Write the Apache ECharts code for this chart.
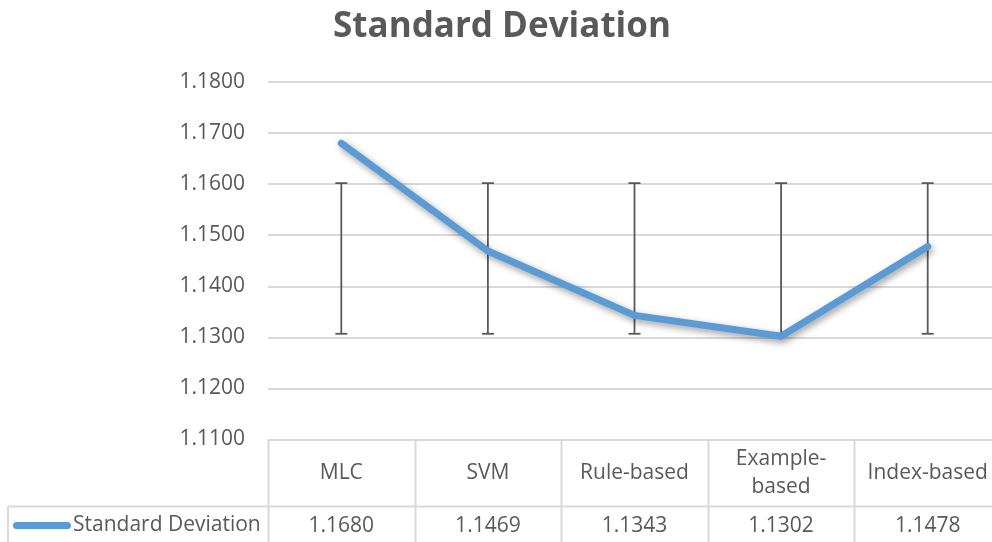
<!DOCTYPE html>
<html>
<head>
<meta charset="utf-8">
<script src="https://cdn.jsdelivr.net/npm/echarts@6/dist/echarts.min.js"></script>
<style>
  html, body { margin: 0; padding: 0; background: #fff; }
  #chart { width: 992px; height: 542px; }
</style>
</head>
<body>
<div id="chart"></div>
<script>
// Methods compared
const categories = ['MLC', 'SVM', 'Rule-based', 'Example-\nbased', 'Index-based'];
// Standard deviation per method
const stdValues = [1.1680, 1.1469, 1.1343, 1.1302, 1.1478];
// Error bar extents per method
const errLow = [1.1307, 1.1307, 1.1307, 1.1307, 1.1307];
const errHigh = [1.1602, 1.1602, 1.1602, 1.1602, 1.1602];
// Value axis range
const yMin = 1.11, yMax = 1.18, yStep = 0.01;

const seriesName = 'Standard Deviation';
const FONT = '"Open Sans", "Noto Sans", sans-serif';
const TEXT = '#595959';
const RULE = '#D9D9D9';
const FS = 21;

const chart = echarts.init(document.getElementById('chart'), null, { renderer: 'canvas' });

const GRID = { left: 268, top: 82, width: 733, height: 357.5, outerBoundsMode: 'none', containLabel: false };

chart.setOption({
  animation: false,
  backgroundColor: '#fff',
  title: {
    text: 'Standard Deviation',
    left: 497, top: 5, textAlign: 'center',
    textStyle: { fontFamily: FONT, fontSize: 35, fontWeight: 'bold', color: TEXT }
  },
  legend: {
    data: [{ name: seriesName }],
    left: 13, top: 515,
    padding: 0,
    itemWidth: 58, itemHeight: 7, itemGap: 0,
    icon: 'path://M3.5,0 H54.5 A3.5,3.5 0 0 1 54.5,7 H3.5 A3.5,3.5 0 0 1 3.5,0 Z',
    textStyle: { fontFamily: FONT, fontSize: FS, color: TEXT, padding: [0, 0, 0, -3] },
    selectedMode: false
  },
  grid: GRID,
  xAxis: [
    {
      type: 'category', data: categories, boundaryGap: true,
      axisLine: { show: true, lineStyle: { color: RULE, width: 2 } },
      axisTick: { show: false },
      axisLabel: {
        fontFamily: FONT, fontSize: FS, color: TEXT, lineHeight: 28,
        margin: 34, verticalAlign: 'middle', interval: 0
      }
    },
    {
      type: 'category', data: stdValues.map(v => v.toFixed(4)), boundaryGap: true,
      position: 'bottom',
      axisLine: { show: false }, axisTick: { show: false },
      axisLabel: {
        fontFamily: FONT, fontSize: FS, color: TEXT,
        margin: 87, verticalAlign: 'middle', interval: 0
      }
    }
  ],
  yAxis: {
    type: 'value', min: yMin, max: yMax, interval: yStep,
    axisLine: { show: false }, axisTick: { show: false },
    splitLine: { lineStyle: { color: RULE, width: 2 } },
    axisLabel: {
      fontFamily: FONT, fontSize: FS, color: TEXT, margin: 23,
      formatter: v => v.toFixed(4)
    }
  },
  series: [
    {
      name: seriesName, type: 'line', data: stdValues,
      symbol: 'none', color: '#5B9BD5',
      lineStyle: {
        width: 7, color: '#5B9BD5', cap: 'round', join: 'round',
        shadowBlur: 7, shadowColor: 'rgba(0,0,0,0.4)', shadowOffsetX: 2, shadowOffsetY: 3
      },
      z: 3
    },
    {
      name: 'err', type: 'custom', z: 2,
      data: categories.map((c, i) => [i, errLow[i], errHigh[i]]),
      renderItem: (params, api) => {
        const lo = api.coord([api.value(0), api.value(1)]);
        const hi = api.coord([api.value(0), api.value(2)]);
        const h = 6;
        const style = { stroke: TEXT, lineWidth: 1.8 };
        return {
          type: 'group',
          children: [
            { type: 'line', shape: { x1: lo[0], y1: lo[1], x2: hi[0], y2: hi[1] }, style },
            { type: 'line', shape: { x1: hi[0] - h, y1: hi[1], x2: hi[0] + h, y2: hi[1] }, style },
            { type: 'line', shape: { x1: lo[0] - h, y1: lo[1], x2: lo[0] + h, y2: lo[1] }, style }
          ]
        };
      }
    }
  ]
});

// Data table rules, placed from the category axis bands
const c0 = chart.convertToPixel({ xAxisIndex: 0 }, 0);
const c1 = chart.convertToPixel({ xAxisIndex: 0 }, 1);
const band = c1 - c0;
const axisY = chart.convertToPixel({ yAxisIndex: 0 }, yMin);
const rowY = axisY + 67;
const bottomY = 560;
const rightX = c0 - band / 2 + categories.length * band;
const rules = [];
for (let i = 0; i <= categories.length; i++) {
  const x = Math.round(c0 - band / 2 + i * band) + 0.5;
  rules.push({ type: 'line', shape: { x1: x, y1: axisY, x2: x, y2: bottomY }, style: { stroke: RULE, lineWidth: 2 }, silent: true });
}
rules.push({ type: 'line', shape: { x1: 8, y1: rowY, x2: rightX, y2: rowY }, style: { stroke: RULE, lineWidth: 2 }, silent: true });
rules.push({ type: 'line', shape: { x1: 8, y1: rowY, x2: 8, y2: bottomY }, style: { stroke: RULE, lineWidth: 2 }, silent: true });
chart.setOption({ graphic: rules });
</script>
</body>
</html>
